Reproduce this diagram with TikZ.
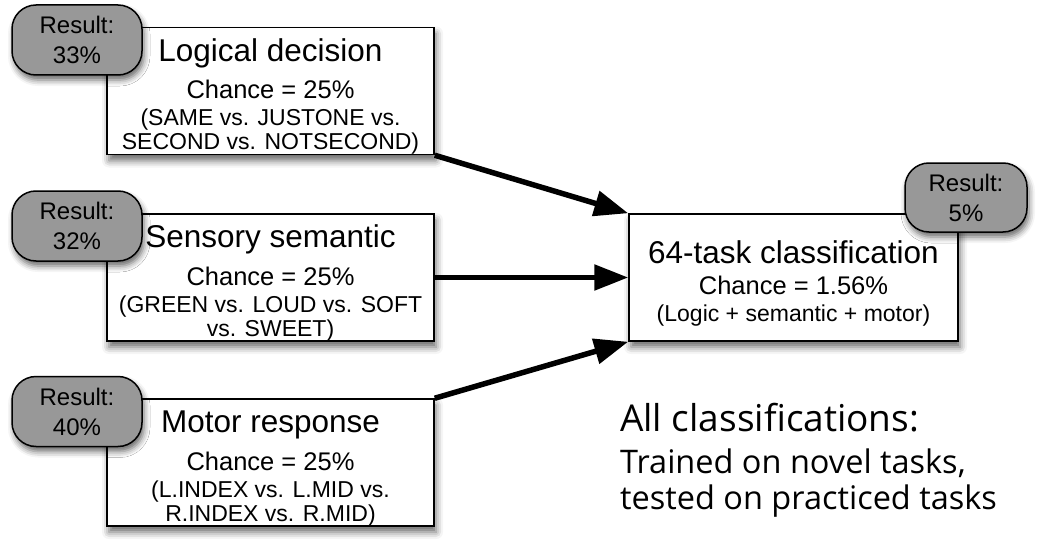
\documentclass[tikz,border=0pt]{standalone}
\usepackage{fontspec}
\setmainfont{Liberation Sans}
\newfontfamily\notefont{Open Sans}
\usetikzlibrary{shapes.misc,shadows.blur,arrows.meta}
\definecolor{pillgray}{RGB}{152,152,152}
\newcommand{\boxtitle}{\fontsize{31.5}{36}\selectfont}
\newcommand{\boxchance}{\fontsize{25.5}{30}\selectfont}
\newcommand{\boxsmall}{\fontsize{23}{24}\selectfont}
\begin{document}
\begin{tikzpicture}[x=1pt,y=-1pt]
		\tikzset{taskbox/.style = {shape=rectangle, draw, line width=1.5pt, fill=white, align=center, inner sep=0pt,
				minimum width=327pt, minimum height=127pt, text depth=0pt, font=\fontsize{23}{24}\selectfont,
				blur shadow={shadow xshift=2pt, shadow yshift=-6pt, shadow blur radius=7pt, shadow opacity=60}},
			result/.style = {shape=rectangle, rounded corners=24pt, draw, line width=1.5pt, fill=pillgray, align=center, inner sep=0pt,
				minimum width=130pt, minimum height=70pt, font=\fontsize{24}{30}\selectfont,
				blur shadow={shadow xshift=2pt, shadow yshift=-5pt, shadow blur radius=6pt, shadow opacity=60}},
			link/.style = {line width=5.5pt, -{Triangle[length=34pt,width=25pt]}}}
		\useasboundingbox (0,0) rectangle (1050,551);

		\node[taskbox] (B_1) at (270.5, 91) {\rule{0pt}{29pt}\boxtitle Logical decision\\[11pt]\boxchance Chance = 25\%\\[3pt]\boxsmall (SAME vs. JUSTONE vs.\\\boxsmall SECOND vs. NOTSECOND)};
		\node[result] (R_1) at (77, 40) {Result:\\33\%};

		\node[taskbox] (B_2) at (270.5, 277.5) {\rule{0pt}{29pt}\boxtitle Sensory semantic\\[11pt]\boxchance Chance = 25\%\\[3pt]\boxsmall (GREEN vs. LOUD vs. SOFT\\\boxsmall vs. SWEET)};
		\node[result] (R_2) at (77, 226) {Result:\\32\%};

		\node[taskbox] (B_3) at (270.5, 462.5) {\rule{0pt}{29pt}\boxtitle Motor response\\[11pt]\boxchance Chance = 25\%\\[3pt]\boxsmall (L.INDEX vs. L.MID vs.\\\boxsmall R.INDEX vs. R.MID)};
		\node[result] (R_3) at (77, 411.5) {Result:\\40\%};

		\node[taskbox, minimum width=329pt] (T) at (793.5, 277.5) {\rule{0pt}{30pt}\boxtitle 64-task classification\\[7pt]\boxchance Chance = 1.56\%\\[3pt]\boxsmall (Logic + semantic + motor)};
		\node[result, minimum width=122pt, minimum height=69pt] (R_4) at (966, 197.5) {Result:\\5\%};

		\node[anchor=north west, align=left, inner sep=0pt, font=\notefont\fontsize{32.5}{36}\selectfont] (note) at (620, 403)
			{\fontsize{37}{40}\selectfont All classifications:\\[6pt]\fontsize{32.5}{36}\selectfont Trained on novel tasks,\\tested on practiced tasks};

		\draw[link] (B_1.south east)--(T.north west);
		\draw[link] (B_2.east)--(T.west);
		\draw[link] (B_3.north east)--(T.south west);

	\end{tikzpicture}
\end{document}
